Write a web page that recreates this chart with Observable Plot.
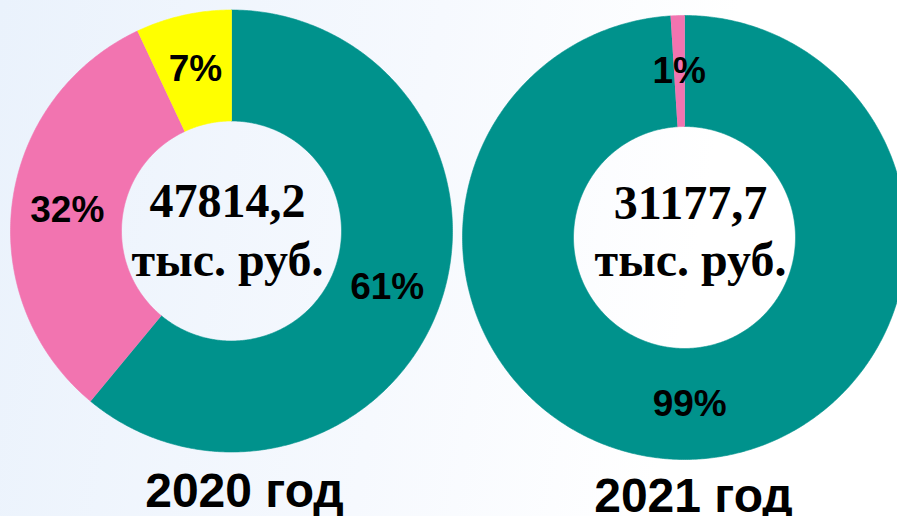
<!DOCTYPE html>
<html><head><meta charset="utf-8">
<script src="https://cdn.jsdelivr.net/npm/d3@7"></script>
<script src="https://cdn.jsdelivr.net/npm/@observablehq/plot@0.6"></script>
<style>html,body{margin:0;padding:0;overflow:hidden;background:#fff}</style>
</head><body><div id="chart"></div>
<script>
// ---- data ----
const categories = ["Категория 1", "Категория 2", "Категория 3"];
const years = ["2020 год", "2021 год"];
const totals = ["47814,2", "31177,7"];
const unitLabel = "тыс. руб.";
const shares2020 = [61, 32, 7];
const shares2021 = [99, 1, 0];
const colors = ["#00928C", "#F274B0", "#FFFF00"];

// ---- layout (pixel geometry of the two donuts) ----
const layout = [
  {cx: 231, cy: 230.5, r0: 110, r1: 221, yearX: 244, yearBase: 506, textX: 227, line1Base: 216, line2Base: 275},
  {cx: 684, cy: 237, r0: 111, r1: 222, yearX: 693, yearBase: 511, textX: 690, line1Base: 218, line2Base: 275}
];
const sharesByYear = [shares2020, shares2021];

const polys = [], pctLabels = [], centerText = [], yearText = [];
years.forEach((year, i) => {
  const L = layout[i];
  const shares = sharesByYear[i];
  const total = d3.sum(shares);
  let acc = 0;
  shares.forEach((v, j) => {
    if (v <= 0) return;
    const a0 = acc / total * 2 * Math.PI;
    acc += v;
    const a1 = acc / total * 2 * Math.PI;
    const n = Math.max(2, Math.ceil((a1 - a0) / (Math.PI / 360)));
    const key = year + "|" + categories[j];
    for (let k = 0; k <= n; k++) {
      const a = a0 + (a1 - a0) * k / n;
      polys.push({key, cat: categories[j], x: L.cx + L.r1 * Math.sin(a), y: L.cy - L.r1 * Math.cos(a)});
    }
    for (let k = n; k >= 0; k--) {
      const a = a0 + (a1 - a0) * k / n;
      polys.push({key, cat: categories[j], x: L.cx + L.r0 * Math.sin(a), y: L.cy - L.r0 * Math.cos(a)});
    }
    const am = (a0 + a1) / 2, rm = (L.r0 + L.r1) / 2;
    pctLabels.push({x: L.cx + rm * Math.sin(am), y: L.cy - rm * Math.cos(am), text: v + "%"});
  });
  centerText.push({x: L.textX, y: L.line1Base - 0.32 * 48, text: totals[i]});
  centerText.push({x: L.textX, y: L.line2Base - 0.32 * 48, text: unitLabel});
  yearText.push({x: L.yearX, y: L.yearBase - 0.32 * 48, text: year});
});

const chart = Plot.plot({
  width: 897,
  height: 516,
  margin: 0,
  style: {background: "linear-gradient(100deg, #EAF2FC 0%, #F6F9FE 45%, #FFFFFF 75%)", overflow: "visible"},
  x: {domain: [0, 897], range: [0, 897], axis: null},
  y: {domain: [0, 516], range: [0, 516], axis: null},
  color: {domain: categories, range: colors},
  marks: [
    Plot.line(polys, {x: "x", y: "y", z: "key", fill: "cat", stroke: "cat", strokeWidth: 0.6, curve: "linear"}),
    Plot.text(pctLabels, {x: "x", y: "y", text: "text", fontFamily: "Liberation Sans, Arial, sans-serif", fontWeight: "bold", fontSize: 37, fill: "#000"}),
    Plot.text(centerText, {x: "x", y: "y", text: "text", fontFamily: "Liberation Serif, Times New Roman, serif", fontWeight: "bold", fontSize: 48, fill: "#000"}),
    Plot.text(yearText, {x: "x", y: "y", text: "text", fontFamily: "Liberation Sans, Arial, sans-serif", fontWeight: "bold", fontSize: 48, fill: "#000"})
  ]
});
document.getElementById("chart").appendChild(chart);
</script>
</body></html>
